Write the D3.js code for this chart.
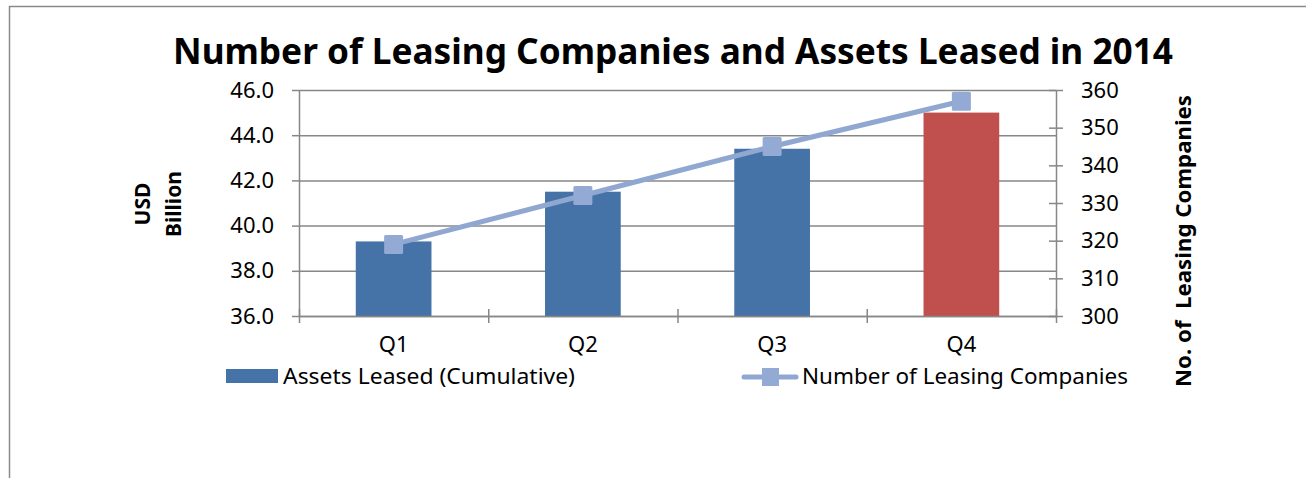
<!DOCTYPE html>
<html>
<head>
<meta charset="utf-8">
<script src="https://cdn.jsdelivr.net/npm/d3@7"></script>
<style>
  html, body { margin: 0; padding: 0; background: #fff; }
  svg { display: block; font-family: "Noto Sans", "Open Sans", sans-serif; }
  .axis path, .axis line { stroke: #878787; stroke-width: 1.5; }
  .grid line { stroke: #878787; stroke-width: 1.5; }
  .grid path { display: none; }
</style>
</head>
<body>
<svg id="chart" width="1306" height="478"></svg>
<script>
// chart data
var quarters = ["Q1", "Q2", "Q3", "Q4"];
var assetsLeased = [39.3, 41.5, 43.4, 45.0];
var leasingCompanies = [319, 332, 345, 357];
var barColors = ["#4572A7", "#4572A7", "#4572A7", "#C0504D"];
var leftTicks = [36, 38, 40, 42, 44, 46];
var rightTicks = [300, 310, 320, 330, 340, 350, 360];
var titleText = "Number of Leasing Companies and Assets Leased in 2014";
var barLegend = "Assets Leased (Cumulative)";
var lineLegend = "Number of Leasing Companies";

var svg = d3.select("#chart");
var plot = {left: 299, right: 1056, top: 90, bottom: 316};
var lineColor = "#8FA7D1";
var markerColor = "#93AAD4";

// outer frame (clipped by the window on right and bottom)
svg.append("rect")
    .attr("x", 9.5).attr("y", 6.5)
    .attr("width", 1400).attr("height", 600)
    .attr("fill", "none")
    .attr("stroke", "#8a8a8a")
    .attr("stroke-width", 1.5);

// scales
var x = d3.scaleBand().domain(quarters)
    .range([plot.left, plot.right])
    .paddingInner(0.6).paddingOuter(0.3);
var xEdge = d3.scaleLinear().domain([0, quarters.length]).range([plot.left, plot.right]);
var y1 = d3.scaleLinear().domain([36, 46]).range([plot.bottom, plot.top]);
var y2 = d3.scaleLinear().domain([300, 360]).range([plot.bottom, plot.top]);

// gridlines
svg.append("g")
    .attr("class", "grid")
    .attr("transform", "translate(" + plot.left + ",0)")
    .call(d3.axisLeft(y1).tickValues(leftTicks).tickSize(-(plot.right - plot.left)).tickFormat(""));

// bars
svg.append("g").selectAll("rect")
    .data(assetsLeased)
    .enter().append("rect")
    .attr("x", function (d, i) { return x(quarters[i]); })
    .attr("y", function (d) { return y1(d); })
    .attr("width", x.bandwidth())
    .attr("height", function (d) { return y1(36) - y1(d); })
    .attr("fill", function (d, i) { return barColors[i]; });

// left axis
var gLeft = svg.append("g")
    .attr("class", "axis")
    .attr("transform", "translate(" + plot.left + ",0)")
    .call(d3.axisLeft(y1).tickValues(leftTicks).tickSize(7).tickSizeOuter(0).tickPadding(18)
        .tickFormat(d3.format(".1f")));
gLeft.selectAll("text")
    .attr("font-size", 22).attr("fill", "#000")
    .attr("font-family", "Noto Sans");

// right axis, ticks cross the line
var gRight = svg.append("g")
    .attr("class", "axis")
    .attr("transform", "translate(" + plot.right + ",0)")
    .call(d3.axisRight(y2).tickValues(rightTicks).tickSize(7).tickSizeOuter(0).tickPadding(18));
gRight.selectAll(".tick line").attr("x1", -7);
gRight.selectAll("text")
    .attr("font-size", 22).attr("fill", "#000")
    .attr("font-family", "Noto Sans");

// bottom axis with boundary ticks
var gBottom = svg.append("g")
    .attr("class", "axis")
    .attr("transform", "translate(0," + plot.bottom + ")")
    .call(d3.axisBottom(xEdge).tickValues(d3.range(quarters.length + 1)).tickSize(7).tickSizeOuter(0).tickFormat(""));
gBottom.selectAll(".tick line").attr("y1", -7);

// category labels
svg.append("g")
    .attr("transform", "translate(0," + plot.bottom + ")")
    .call(d3.axisBottom(x).tickSize(0).tickPadding(20))
    .call(function (g) { g.select(".domain").remove(); })
    .selectAll("text")
    .attr("font-size", 22).attr("fill", "#000")
    .attr("font-family", "Noto Sans");

// line series
var line = d3.line()
    .x(function (d, i) { return x(quarters[i]) + x.bandwidth() / 2; })
    .y(function (d) { return y2(d); });
svg.append("path")
    .datum(leasingCompanies)
    .attr("d", line)
    .attr("fill", "none")
    .attr("stroke", lineColor)
    .attr("stroke-width", 5);
var ms = 19;
svg.append("g").selectAll("rect")
    .data(leasingCompanies)
    .enter().append("rect")
    .attr("x", function (d, i) { return x(quarters[i]) + x.bandwidth() / 2 - ms / 2; })
    .attr("y", function (d) { return y2(d) - ms / 2; })
    .attr("width", ms).attr("height", ms)
    .attr("rx", 1.5)
    .attr("fill", markerColor);

// title
svg.append("text")
    .attr("x", 673).attr("y", 64)
    .attr("text-anchor", "middle")
    .attr("font-size", 36).attr("font-weight", "bold")
    .attr("textLength", 1000).attr("lengthAdjust", "spacingAndGlyphs")
    .text(titleText);

// left axis title
var leftTitle = svg.append("text")
    .attr("transform", "translate(143,204) rotate(-90)")
    .attr("text-anchor", "middle")
    .attr("font-size", 21).attr("font-weight", "bold");
leftTitle.append("tspan").attr("x", 0).attr("y", 7).text("USD");
leftTitle.append("tspan").attr("x", 0).attr("y", 38).text("Billion");

// right axis title
svg.append("text")
    .attr("transform", "translate(1191,241) rotate(-90)")
    .attr("text-anchor", "middle")
    .attr("font-size", 21).attr("font-weight", "bold")
    .attr("textLength", 292).attr("lengthAdjust", "spacingAndGlyphs")
    .attr("xml:space", "preserve")
    .text("No. of  Leasing Companies");

// legend
var legend = svg.append("g");
legend.append("rect")
    .attr("x", 226).attr("y", 369).attr("width", 52).attr("height", 14)
    .attr("fill", barColors[0]);
legend.append("text")
    .attr("x", 283).attr("y", 384)
    .attr("font-size", 22)
    .attr("textLength", 292).attr("lengthAdjust", "spacingAndGlyphs")
    .text(barLegend);
legend.append("line")
    .attr("x1", 744).attr("x2", 796).attr("y1", 377).attr("y2", 377)
    .attr("stroke", lineColor).attr("stroke-width", 5).attr("stroke-linecap", "round");
legend.append("rect")
    .attr("x", 762).attr("y", 368).attr("width", 17).attr("height", 18)
    .attr("fill", markerColor);
legend.append("text")
    .attr("x", 802).attr("y", 384)
    .attr("font-size", 22)
    .attr("textLength", 326).attr("lengthAdjust", "spacingAndGlyphs")
    .text(lineLegend);
</script>
</body>
</html>
